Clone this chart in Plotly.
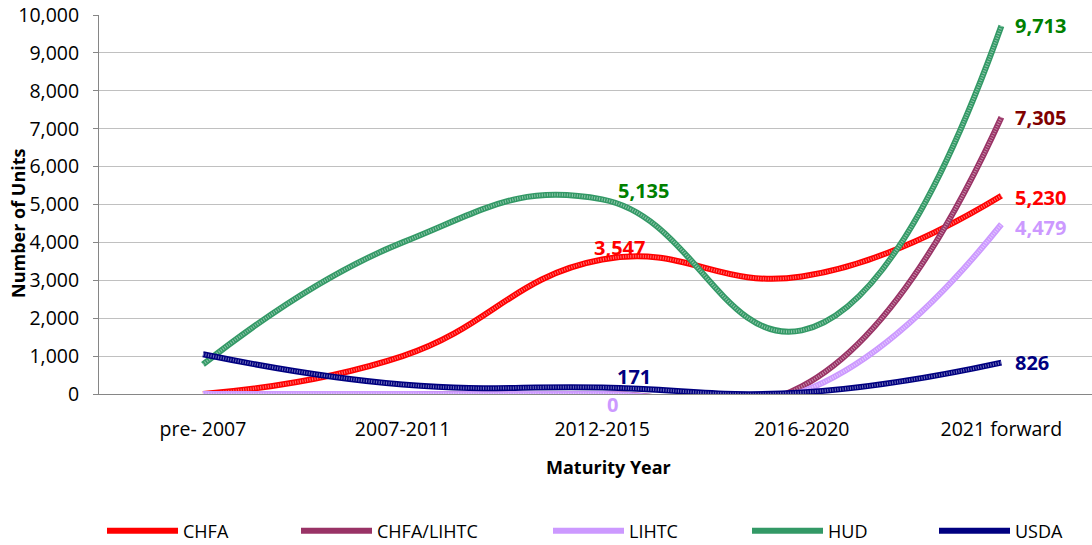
import plotly.graph_objects as go

categories = ["pre- 2007", "2007-2011", "2012-2015", "2016-2020", "2021 forward"]

chfa = [0, 1000, 3547, 3100, 5230]
chfa_lihtc = [0, 0, 0, 200, 7305]
lihtc = [0, 0, 0, 60, 4479]
hud = [780, 4000, 5135, 1680, 9713]
usda = [1050, 250, 171, 40, 826]

series_names = ["CHFA", "CHFA/LIHTC", "LIHTC", "HUD", "USDA"]
series_values = [chfa, chfa_lihtc, lihtc, hud, usda]

# indices of labelled points
mid_idx = 2
end_idx = 4

line_colors = ["#FF0000", "#993366", "#CC99FF", "#339966", "#000080"]
label_colors = ["#FF0000", "#800000", "#CC99FF", "#008000", "#000080"]
# (xshift, yshift) for the 2012-2015 labels, None = no label
mid_label_shift = [(17, 12), None, (10, -10), (41, 9), (32, 11)]
end_label_yshift = [-2, 0, -3, 0, 0]
legend_left_px = [107, 301, 553, 752, 939]

FONT = "Open Sans, Liberation Sans, Arial, sans-serif"

W, H = 1092, 545
ML, MR, MT, MB = 99, 0, 15, 151
PW = W - ML - MR
PH = H - MT - MB

fig = go.Figure()
annotations = []
for i, (name, vals) in enumerate(zip(series_names, series_values)):
    leg = "legend" if i == 0 else f"legend{i+1}"
    fig.add_trace(go.Scatter(
        x=categories, y=vals, mode="lines", name=name, legend=leg,
        line=dict(color=line_colors[i], width=6, shape="spline", smoothing=1.3),
        hoverinfo="x+y+name",
    ))
    # light speckle texture on the thick line
    fig.add_trace(go.Scatter(
        x=categories, y=vals, mode="lines", showlegend=False, hoverinfo="skip",
        line=dict(color="rgba(255,255,255,0.45)", width=3, dash="1px,1.5px",
                  shape="spline", smoothing=1.3),
    ))
    if mid_label_shift[i] is not None:
        xs, ys = mid_label_shift[i]
        annotations.append(dict(
            x=categories[mid_idx], y=vals[mid_idx], xref="x", yref="y",
            text=f"{vals[mid_idx]:,}", showarrow=False,
            xanchor="center", yanchor="middle", xshift=xs, yshift=ys,
            font=dict(family=FONT, size=20, color=label_colors[i], weight="bold"),
        ))
    annotations.append(dict(
        x=categories[end_idx], y=vals[end_idx], xref="x", yref="y",
        text=f"{vals[end_idx]:,}", showarrow=False,
        xanchor="left", yanchor="middle", xshift=12, yshift=end_label_yshift[i],
        font=dict(family=FONT, size=20, color=label_colors[i], weight="bold"),
    ))

annotations.append(dict(
    text="<b>Number of Units</b>", textangle=-90, showarrow=False,
    xref="paper", yref="paper", x=(18 - ML) / PW, y=(MT + PH - 223) / PH,
    xanchor="center", yanchor="middle",
    font=dict(family=FONT, size=18, color="#000000"),
))
annotations.append(dict(
    text="<b>Maturity Year</b>", showarrow=False,
    xref="paper", yref="paper", x=(608 - ML) / PW, y=(MT + PH - 467) / PH,
    xanchor="center", yanchor="middle",
    font=dict(family=FONT, size=18, color="#000000"),
))

layout = dict(
    width=W, height=H, autosize=False,
    margin=dict(l=ML, r=MR, t=MT, b=MB, pad=0, autoexpand=False),
    paper_bgcolor="white", plot_bgcolor="white",
    font=dict(family=FONT, color="#000000"),
    xaxis=dict(
        type="category", range=[-0.521, 4.454], showgrid=False, zeroline=False,
        showline=True, linecolor="#868686", linewidth=1, ticks="",
        tickfont=dict(family=FONT, size=19.5, color="#000000"),
        ticklabelstandoff=18, automargin=False,
    ),
    yaxis=dict(
        range=[0, 10000], dtick=1000, tickformat=",d", showgrid=True,
        gridcolor="#C0C0C0", gridwidth=1, zeroline=False,
        showline=True, linecolor="#868686", linewidth=1,
        ticks="outside", ticklen=5, tickcolor="#868686",
        tickfont=dict(family=FONT, size=19.5, color="#000000"),
        ticklabelstandoff=10, automargin=False,
    ),
    annotations=annotations,
    showlegend=True,
)
for i, px in enumerate(legend_left_px):
    key = "legend" if i == 0 else f"legend{i+1}"
    layout[key] = dict(
        xref="container", yref="container",
        x=(px - 5) / W, y=1 - 531 / H,
        xanchor="left", yanchor="middle", orientation="h",
        bgcolor="rgba(0,0,0,0)", borderwidth=0, itemwidth=71,
        font=dict(family=FONT, size=18, color="#000000"),
    )
fig.update_layout(**layout)
fig.write_html(
    "out.html",
    config={"displayModeBar": False},
    post_script="document.body.style.margin='0px';document.body.style.padding='0px';"
                "document.body.style.overflow='hidden';",
)
